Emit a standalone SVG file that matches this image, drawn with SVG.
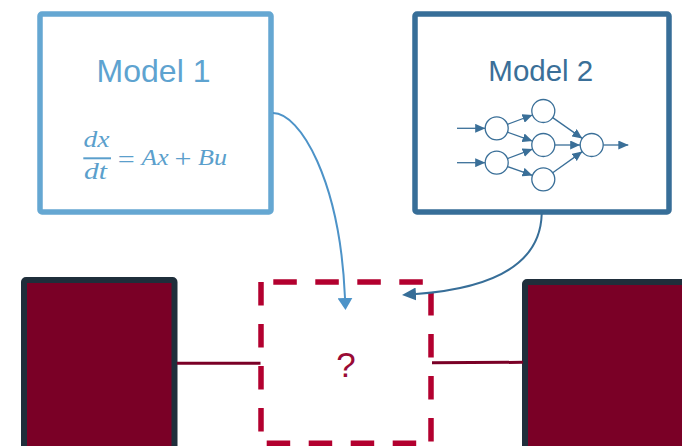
<svg xmlns="http://www.w3.org/2000/svg" width="682" height="446" viewBox="0 0 682 446">
  <style>
    .lbl { font-family: "Liberation Sans", Arial, sans-serif; }
    .eq { font-family: "Liberation Serif", "Times New Roman", serif; font-style: italic; font-size: 23px; fill: #5b9fcc; }
    .eqn { font-family: "Liberation Serif", "Times New Roman", serif; font-size: 26px; fill: #5b9fcc; }
    .nn circle { fill: #ffffff; stroke: #3a6f98; stroke-width: 1.3; }
    .nn line { stroke: #3a6f98; stroke-width: 1.3; marker-end: url(#nnHead); }
    .dash { fill: none; stroke: #b3002f; stroke-width: 5.5; stroke-dasharray: 23.5 18.5; }
    .block { fill: #7a0026; stroke: #1f2e3b; stroke-width: 6; }
    .wire { stroke: #7a0026; stroke-width: 3; fill: none; }
  </style>
  <defs>
    <marker id="nnHead" viewBox="0 0 10 9" refX="10" refY="4.5" markerWidth="10" markerHeight="9" markerUnits="userSpaceOnUse" orient="auto">
      <path d="M0,0 L10,4.5 L0,9 z" fill="#3a6f98"/>
    </marker>
    <marker id="headLight" viewBox="0 0 12 15" refX="0" refY="7.5" markerWidth="12" markerHeight="15" markerUnits="userSpaceOnUse" orient="auto">
      <path d="M0,0 L12,7.5 L0,15 z" fill="#4d93c8"/>
    </marker>
    <marker id="headDark" viewBox="0 0 14 13" refX="0" refY="6.5" markerWidth="14" markerHeight="13" markerUnits="userSpaceOnUse" orient="auto">
      <path d="M0,0 L14,6.5 L0,13 z" fill="#376e98"/>
    </marker>
  </defs>

  <g id="model1">
    <rect x="40" y="14" width="231" height="198" rx="2" fill="#ffffff" stroke="#65a7d2" stroke-width="5.5"/>
    <text class="lbl" x="153.5" y="82" font-size="32" fill="#5ea3d0" text-anchor="middle">Model 1</text>
    <text class="eq" x="96.5" y="146.7" text-anchor="middle" textLength="26" lengthAdjust="spacingAndGlyphs">dx</text>
    <line x1="83.3" y1="158.3" x2="111" y2="158.3" stroke="#5b9fcc" stroke-width="2"/>
    <text class="eq" x="95.5" y="179.3" text-anchor="middle" textLength="23" lengthAdjust="spacingAndGlyphs">dt</text>
    <text class="eqn" x="126.3" y="168" text-anchor="middle" textLength="17" lengthAdjust="spacingAndGlyphs">=</text>
    <text class="eq" x="155" y="165" text-anchor="middle" textLength="27" lengthAdjust="spacingAndGlyphs">Ax</text>
    <text class="eqn" x="183" y="166.5" text-anchor="middle" textLength="17" lengthAdjust="spacingAndGlyphs">+</text>
    <text class="eq" x="212.5" y="165" text-anchor="middle" textLength="29" lengthAdjust="spacingAndGlyphs">Bu</text>
  </g>

  <g id="model2">
    <rect x="415" y="14" width="254" height="198" rx="2" fill="#ffffff" stroke="#376e98" stroke-width="5.5"/>
    <text class="lbl" x="540.8" y="81" font-size="29.5" fill="#3a6f98" text-anchor="middle">Model 2</text>
    <g class="nn">
      <line x1="457" y1="128.3" x2="485.2" y2="128.3"/>
      <line x1="457" y1="162.7" x2="485.2" y2="162.7"/>
      <line x1="507.5" y1="124.3" x2="532.5" y2="115"/>
      <line x1="507.5" y1="132.2" x2="532.5" y2="141.1"/>
      <line x1="507.5" y1="158.6" x2="532.6" y2="149.1"/>
      <line x1="507.5" y1="166.6" x2="532.5" y2="175.4"/>
      <line x1="552.7" y1="117.6" x2="582.3" y2="138.4"/>
      <line x1="555" y1="145" x2="580.2" y2="145"/>
      <line x1="552.7" y1="172.7" x2="582.3" y2="151.6"/>
      <line x1="603.2" y1="145" x2="628.3" y2="145"/>
      <circle cx="496.7" cy="128.3" r="11.5"/>
      <circle cx="496.7" cy="162.7" r="11.5"/>
      <circle cx="543.3" cy="111" r="11.5"/>
      <circle cx="543.3" cy="145" r="11.5"/>
      <circle cx="543.3" cy="179.3" r="11.5"/>
      <circle cx="591.7" cy="145" r="11.5"/>
    </g>
  </g>

  <g id="left-block">
    <rect class="block" x="24" y="280" width="150.5" height="190" rx="2"/>
  </g>

  <g id="right-block">
    <rect class="block" x="525" y="282" width="200" height="190" rx="2"/>
  </g>

  <g id="unknown">
    <line class="dash" x1="261" y1="282" x2="431" y2="282" stroke-dashoffset="29.7"/>
    <line class="dash" x1="261" y1="282" x2="261" y2="443.3" stroke-dashoffset="0"/>
    <line class="dash" x1="431" y1="282" x2="431" y2="443.3" stroke-dashoffset="32"/>
    <line class="dash" x1="261" y1="443.3" x2="431" y2="443.3" stroke-dashoffset="36.3"/>
    <text class="lbl" x="346" y="376.7" font-size="35" fill="#9a0b35" text-anchor="middle">?</text>
  </g>

  <g id="connectors">
    <line class="wire" x1="177" y1="363.3" x2="260.5" y2="363.3"/>
    <line class="wire" x1="432" y1="362.8" x2="523" y2="362.3"/>
    <path d="M273,113 C300,113 340,180 345,298" fill="none" stroke="#4d93c8" stroke-width="2" marker-end="url(#headLight)"/>
    <path d="M541.7,214 C540,275 470,290 416,294" fill="none" stroke="#376e98" stroke-width="2" marker-end="url(#headDark)"/>
  </g>
</svg>
